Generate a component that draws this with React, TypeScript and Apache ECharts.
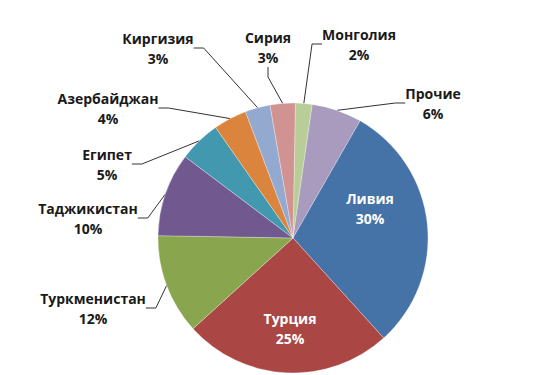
import React, { useEffect, useRef } from "react";
import * as echarts from "echarts";

const categories = ["Монголия", "Прочие", "Ливия", "Турция", "Туркменистан", "Таджикистан", "Египет", "Азербайджан", "Киргизия", "Сирия"];
const values = [2, 6, 30, 25, 12, 10, 5, 4, 3, 3];
const colors = ["#B9CD96", "#A99BBD", "#4572A7", "#AA4643", "#89A54E", "#71588F", "#4198AF", "#DB843D", "#93A9CF", "#D19392"];
const insideLabels = ["Ливия", "Турция"];

// label anchor positions (styling / layout only)
const labelPos: Record<string, [number, number]> = {
  "Монголия": [359, 44],
  "Прочие": [433, 103],
  "Ливия": [370, 208],
  "Турция": [290, 328],
  "Туркменистан": [93, 308],
  "Таджикистан": [88, 218],
  "Египет": [107, 164],
  "Азербайджан": [108, 108],
  "Киргизия": [158, 48],
  "Сирия": [268, 47],
};

export default function App() {
  const ref = useRef<HTMLDivElement>(null);
  useEffect(() => {
    document.body.style.margin = "0";
    const chart = echarts.init(ref.current!, undefined, { renderer: "svg" });
    const data = categories.map((name, i) => {
      const inside = insideLabels.includes(name);
      return {
        name,
        value: values[i],
        itemStyle: { color: colors[i] },
        label: inside
          ? { position: "inside", color: "#ffffff" }
          : { position: "outside", color: "#1a1a1a" },
        labelLine: { show: !inside },
      };
    });
    chart.setOption({
      animation: false,
      backgroundColor: "#ffffff",
      series: [
        {
          type: "pie",
          center: [293, 238],
          radius: 135,
          startAngle: 89,
          clockwise: true,
          data,
          itemStyle: { borderColor: "rgba(255,255,255,0.6)", borderWidth: 0.5 },
          label: {
            formatter: "{b}\n{c}%",
            fontFamily: "Open Sans, Noto Sans, sans-serif",
            fontWeight: "bold",
            fontSize: 14,
            lineHeight: 20,
            align: "center",
          },
          labelLine: {
            show: true,
            length: 10,
            length2: 10,
            lineStyle: { color: "#333333", width: 1 },
          },
          labelLayout: (p: any) => {
            const name = categories[p.dataIndex];
            const pos = labelPos[name];
            return { x: pos[0], y: pos[1], align: "center", verticalAlign: "middle" };
          },
          emphasis: { disabled: true },
        },
      ],
    });
    return () => chart.dispose();
  }, []);
  return <div ref={ref} style={{ width: 536, height: 375 }} />;
}
